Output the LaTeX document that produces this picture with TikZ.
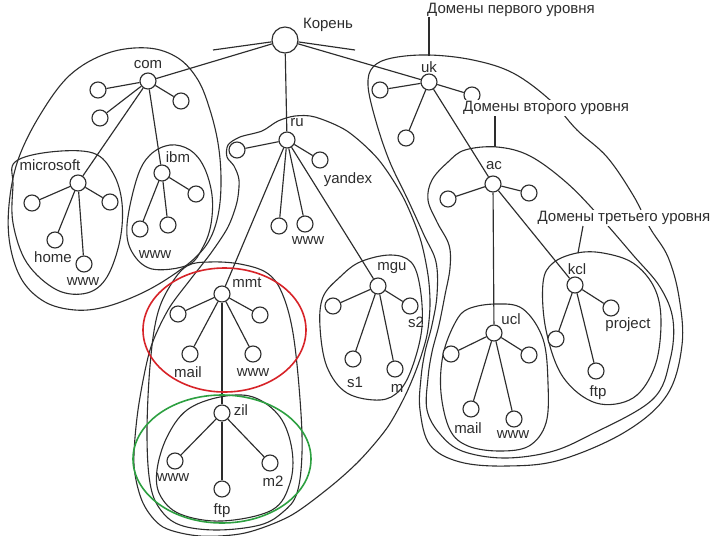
\documentclass[tikz,border=0pt]{standalone}
\usepackage{fontspec}
\setmainfont{Liberation Sans}
\usetikzlibrary{shapes.geometric}
\definecolor{ink}{RGB}{45,45,45}
\definecolor{redring}{RGB}{215,35,40}
\definecolor{greenring}{RGB}{45,160,65}
\begin{document}
\begin{tikzpicture}[x=1pt,y=-1pt,
  every node/.style={font=\fontsize{15}{17}\selectfont,text=ink},
  leaf/.style={circle,draw=ink,fill=white,minimum size=16pt,inner sep=0pt,line width=1.15pt},
  rootnode/.style={leaf,minimum size=26pt},
  lbl/.style={inner sep=1pt},
  biglbl/.style={fill=white,inner sep=1.5pt},
  edge/.style={draw=ink,line width=1.15pt},
  contour/.style={draw=ink,line width=1.1pt}]
\useasboundingbox (0,0) rectangle (716,536);
\fill[white] (0,0) rectangle (716,536);

% ---------- contours ----------
% com
\draw[contour] plot[smooth cycle,tension=0.6] coordinates {(148,48) (178,58) (198,80) (210,110) (218,143) (221,177) (219,210) (211,237) (196,257) (170,277) (140,294) (105,307) (75,310) (45,302) (22,280) (10,245) (9,205) (18,160) (40,115) (70,75) (108,53)};
% microsoft
\draw[contour] plot[smooth cycle,tension=0.6] coordinates {(15,162) (50,152) (93,153) (113,173) (122,203) (120,240) (107,277) (87,293) (57,290) (27,263) (13,223) (13,185)};
% ibm
\draw[contour] plot[smooth cycle,tension=0.6] coordinates {(137,178) (150,155) (170,145) (190,150) (204,167) (212,195) (211,224) (203,247) (188,265) (152,269) (132,252) (127,225)};
% ru
\draw[contour] plot[smooth cycle,tension=0.5] coordinates {(240,137) (228,145) (227,157) (234,166) (239,180) (237,202) (228,227) (211,253) (190,280) (168,310) (150,350) (138,410) (134,465) (143,503) (163,527) (200,536) (245,533) (290,516) (330,487) (360,460) (387,428) (405,396) (418,365) (427,335) (430,305) (428,275) (420,238) (403,197) (378,159) (347,131) (315,117) (295,116) (278,121) (262,131)};
% mmt
\draw[contour] plot[smooth cycle,tension=0.6] coordinates {(187,266) (170,286) (157,316) (150,366) (147,433) (150,483) (160,509) (180,525) (217,530) (260,525) (283,512) (297,493) (302,453) (300,399) (293,333) (282,293) (267,273) (240,264) (210,262)};
% zil
\draw[contour] plot[smooth cycle,tension=0.6] coordinates {(157,470) (167,437) (187,410) (220,397) (253,397) (280,417) (292,450) (290,483) (272,510) (222,521) (180,514) (160,495)};
% mgu
\draw[contour] plot[smooth cycle,tension=0.6] coordinates {(340,277) (360,262) (390,255) (411,262) (420,287) (422,327) (413,365) (400,390) (380,400) (347,393) (327,367) (320,327) (323,297)};
% uk
\draw[contour] plot[smooth cycle,tension=0.6] coordinates {(368,85) (373,67) (392,58) (429,55) (473,60) (513,73) (550,100) (577,130) (607,157) (633,195) (650,228) (668,257) (679,297) (682,345) (667,395) (625,432) (560,460) (507,466) (460,462) (430,445) (420,410) (421,378) (425,352) (432,325) (437,295) (436,262) (424,235) (408,200) (389,160) (375,118)};
% ac
\draw[contour] plot[smooth cycle,tension=0.6] coordinates {(465,150) (497,147) (530,156) (567,183) (600,217) (633,255) (660,287) (673,320) (670,360) (652,400) (590,435) (550,452) (503,458) (462,451) (440,434) (427,410) (428,378) (432,352) (439,325) (445,295) (450,268) (449,245) (437,222) (428,200) (432,180) (448,162)};
% ucl
\draw[contour] plot[smooth cycle,tension=0.6] coordinates {(455,323) (468,309) (496,304) (523,309) (543,339) (548,383) (546,423) (529,446) (499,451) (468,446) (450,430) (441,393) (443,355)};
% kcl
\draw[contour] plot[smooth cycle,tension=0.6] coordinates {(543,283) (553,263) (577,253) (603,253) (633,263) (654,287) (661,320) (655,366) (633,398) (596,403) (563,377) (546,330)};

% ---------- nodes ----------
\node[rootnode] (root) at (285,40) {};
\coordinate (stubL) at (213,50);
\coordinate (stubR) at (355,50);

\node[leaf] (com) at (148,81) {};
\node[leaf] (c1) at (98,90) {};
\node[leaf] (c2) at (100,118) {};
\node[leaf] (c3) at (181,101) {};
\node[leaf] (ms) at (78,183) {};
\node[leaf] (ibm) at (162,173) {};
\node[leaf] (ms1) at (32,203) {};
\node[leaf] (ms2) at (110,202) {};
\node[leaf] (mshome) at (55,240) {};
\node[leaf] (mswww) at (84,264) {};
\node[leaf] (ibm1) at (140,229) {};
\node[leaf] (ibm2) at (168,225) {};
\node[leaf] (ibm3) at (196,194) {};

\node[leaf] (ru) at (287,140) {};
\node[leaf] (ru1) at (237,150) {};
\node[leaf] (ruy) at (320,160) {};
\node[leaf] (ruw1) at (279,226) {};
\node[leaf] (ruw2) at (305,224) {};
\node[leaf] (mmt) at (222,294) {};
\node[leaf] (mgu) at (378,286) {};
\node[leaf] (mmt1) at (178,314) {};
\node[leaf] (mmt2) at (260,315) {};
\node[leaf] (mmtmail) at (190,354) {};
\node[leaf] (mmtwww) at (253,354) {};
\node[leaf] (zil) at (222,413) {};
\node[leaf] (zilw) at (175,461) {};
\node[leaf] (zilm) at (270,463) {};
\node[leaf] (zilftp) at (222,489) {};
\node[leaf] (mgu1) at (333,306) {};
\node[leaf] (mgus2) at (410,306) {};
\node[leaf] (mgus1) at (353,359) {};
\node[leaf] (mgum) at (395,369) {};

\node[leaf] (uk) at (429,82) {};
\node[leaf] (uk1) at (380,90) {};
\node[leaf] (uk2) at (472,95) {};
\node[leaf] (uk3) at (406,138) {};
\node[leaf] (ac) at (493,184) {};
\node[leaf] (ac1) at (448,199) {};
\node[leaf] (ac2) at (529,193) {};
\node[leaf] (ucl) at (494,333) {};
\node[leaf] (kcl) at (575,285) {};
\node[leaf] (ucl1) at (451,354) {};
\node[leaf] (ucl2) at (529,355) {};
\node[leaf] (uclmail) at (471,409) {};
\node[leaf] (uclwww) at (514,419) {};
\node[leaf] (kcl1) at (556,339) {};
\node[leaf] (kclp) at (611,308) {};
\node[leaf] (kclftp) at (596,371) {};

% ---------- edges ----------
\draw[edge] (root) -- (stubL);
\draw[edge] (root) -- (stubR);
\draw[edge] (root) -- (com);
\draw[edge] (root) -- (ru);
\draw[edge] (root) -- (uk);
\foreach \t in {c1,c2,c3,ms,ibm} \draw[edge] (com) -- (\t);
\foreach \t in {ms1,ms2,mshome,mswww} \draw[edge] (ms) -- (\t);
\foreach \t in {ibm1,ibm2,ibm3} \draw[edge] (ibm) -- (\t);
\foreach \t in {ru1,ruy,ruw1,ruw2,mmt,mgu} \draw[edge] (ru) -- (\t);
\foreach \t in {mmt1,mmt2,mmtmail,mmtwww,zil} \draw[edge] (mmt) -- (\t);
\foreach \t in {zilw,zilm,zilftp} \draw[edge] (zil) -- (\t);
\foreach \t in {mgu1,mgus2,mgus1,mgum} \draw[edge] (mgu) -- (\t);
\foreach \t in {uk1,uk2,uk3,ac} \draw[edge] (uk) -- (\t);
\foreach \t in {ac1,ac2,ucl,kcl} \draw[edge] (ac) -- (\t);
\foreach \t in {ucl1,ucl2,uclmail,uclwww} \draw[edge] (ucl) -- (\t);
\foreach \t in {kcl1,kclp,kclftp} \draw[edge] (kcl) -- (\t);

% ---------- labels ----------
\node[lbl] (lroot) at (328,25) {Корень};
\node[lbl] (lcom) at (148,65) {com};
\node[lbl] (lms) at (50,165) {microsoft};
\node[lbl] (libm) at (178,157) {ibm};
\node[lbl] (lhome) at (53,257) {home};
\node[lbl] (lmswww) at (83,282) {www};
\node[lbl] (libmwww) at (155,255) {www};
\node[lbl] (lru) at (297,123) {ru};
\node[lbl] (lyandex) at (348,180) {yandex};
\node[lbl] (lruwww) at (308,241) {www};
\node[lbl] (lmmt) at (247,283) {mmt};
\node[lbl] (lmmtmail) at (188,372) {mail};
\node[lbl] (lmmtwww) at (253,373) {www};
\node[lbl] (lzil) at (241,410) {zil};
\node[lbl] (lzilw) at (173,478) {www};
\node[lbl] (lzilm) at (273,481) {m2};
\node[lbl] (lzilftp) at (222,511) {ftp};
\node[lbl] (lmgu) at (392,268) {mgu};
\node[lbl] (lmgus2) at (416,322) {s2};
\node[lbl] (lmgus1) at (355,382) {s1};
\node[lbl] (lmgum) at (397,388) {m};
\node[lbl] (luk) at (429,67) {uk};
\node[lbl] (lac) at (494,166) {ac};
\node[lbl] (lucl) at (511,319) {ucl};
\node[lbl] (lkcl) at (577,269) {kcl};
\node[lbl] (lkclp) at (628,325) {project};
\node[lbl] (lkclftp) at (598,393) {ftp};
\node[lbl] (luclmail) at (468,428) {mail};
\node[lbl] (luclwww) at (513,435) {www};

\node[biglbl] (first) at (511,10) {Домены первого уровня};
\node[biglbl] (second) at (546,108) {Домены второго уровня};
\node[biglbl] (third) at (624,218) {Домены третьего уровня};
\coordinate (firstA) at (429,17);
\coordinate (firstB) at (429,56);
\coordinate (secondA) at (495,116);
\coordinate (secondB) at (495,147);
\coordinate (thirdA) at (583,226);
\coordinate (thirdB) at (578,253);
\draw[edge] (firstA) -- (firstB);
\draw[edge] (secondA) -- (secondB);
\draw[edge] (thirdA) -- (thirdB);

% ---------- highlight rings ----------
\node[draw=redring,line width=1.6pt,ellipse,minimum width=163pt,minimum height=124pt,inner sep=0pt] (redring) at (224.5,330) {};
\node[draw=greenring,line width=1.6pt,ellipse,minimum width=178pt,minimum height=128pt,inner sep=0pt] (greenring) at (222,459) {};
\end{tikzpicture}
\end{document}
